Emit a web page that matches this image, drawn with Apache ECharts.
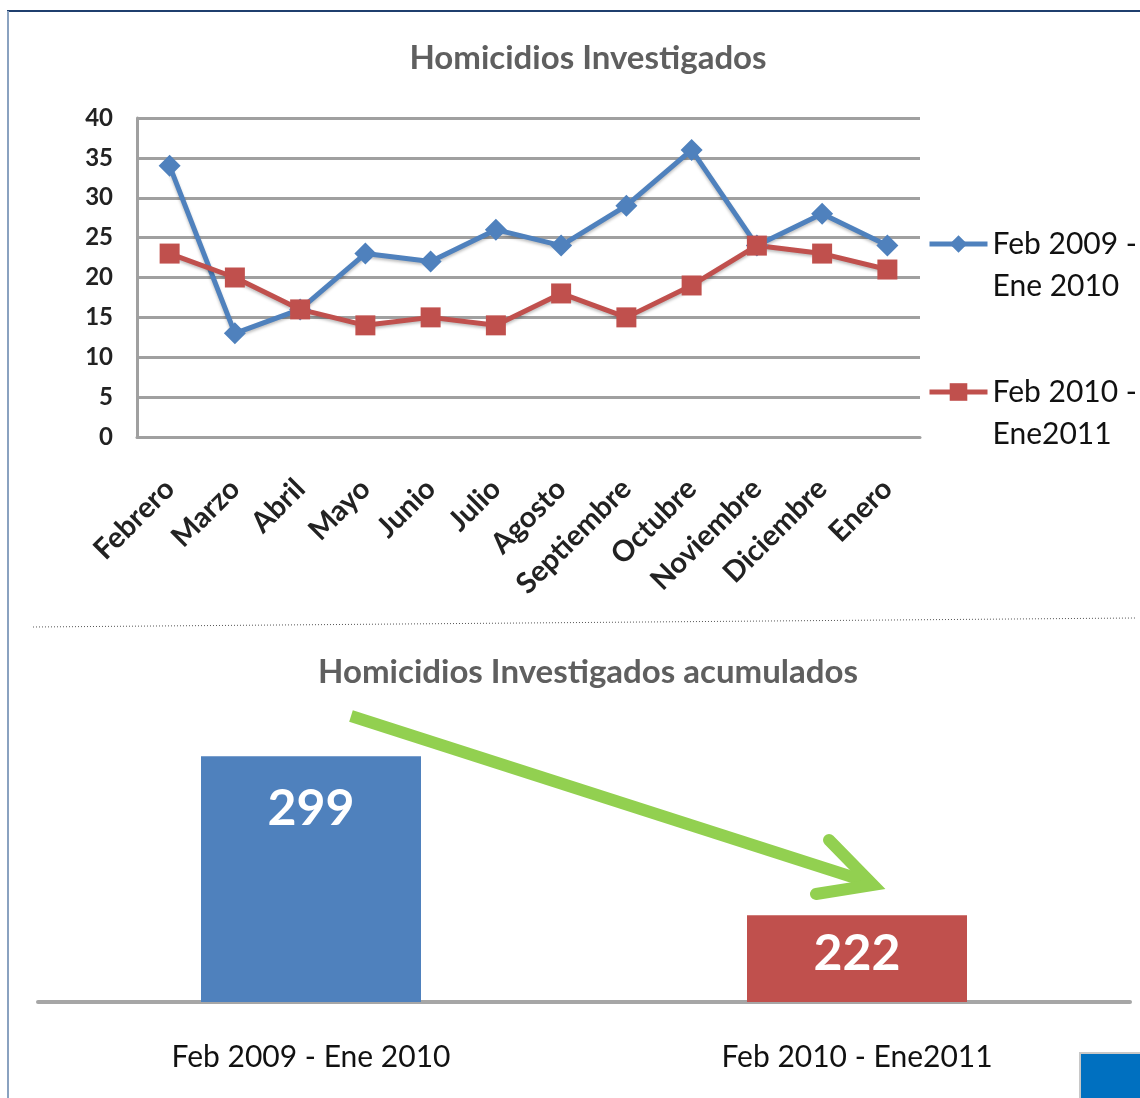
<!DOCTYPE html>
<html>
<head>
<meta charset="utf-8">
<script src="https://cdn.jsdelivr.net/npm/echarts@6/dist/echarts.min.js"></script>
<style>
  html, body { margin: 0; padding: 0; background: #fff; }
  #chart { width: 1140px; height: 1098px; }
</style>
</head>
<body>
<div id="chart"></div>
<script>
// datos del grafico de lineas
var meses = ['Febrero', 'Marzo', 'Abril', 'Mayo', 'Junio', 'Julio', 'Agosto', 'Septiembre', 'Octubre', 'Noviembre', 'Diciembre', 'Enero'];
var serie2009 = [34, 13, 16, 23, 22, 26, 24, 29, 36, 24, 28, 24];
var serie2010 = [23, 20, 16, 14, 15, 14, 18, 15, 19, 24, 23, 21];
var nombre2009 = 'Feb 2009 -\nEne 2010';
var nombre2010 = 'Feb 2010 -\nEne2011';

// datos del grafico de barras (acumulados)
var periodos = ['Feb 2009 - Ene 2010', 'Feb 2010 - Ene2011'];
var acumulados = [299, 222];

var fuente = 'Lato, "Open Sans", sans-serif';
var azul = '#4f81bd';
var rojo = '#c0504d';
var gris = '#a0a0a0';

var myChart = echarts.init(document.getElementById('chart'), null, { renderer: 'canvas' });

// texto de leyenda en dos lineas, con una linea vacia arriba para que el icono quede en la primera
function textoLeyenda(name) {
    var partes = name.split('\n');
    return '{e| }\n{t|' + partes[0] + '}\n{t|' + partes[1] + '}';
}
var estiloLeyenda = {
    fontSize: 30,
    color: '#111',
    rich: {
        e: { fontSize: 30, lineHeight: 42 },
        t: { fontSize: 30, lineHeight: 42, color: '#111' }
    }
};

var option = {
    animation: false,
    textStyle: { fontFamily: fuente },
    title: [
        {
            text: 'Homicidios Investigados',
            left: 583, top: 37, textAlign: 'center',
            textStyle: { fontSize: 33, fontWeight: 'bold', color: '#5f5f5f', fontFamily: fuente }
        },
        {
            text: 'Homicidios Investigados acumulados',
            left: 583, top: 651, textAlign: 'center',
            textStyle: { fontSize: 33, fontWeight: 'bold', color: '#5f5f5f', fontFamily: fuente }
        }
    ],
    legend: [
        {
            data: [nombre2009],
            formatter: textoLeyenda,
            left: 922, top: 182,
            itemWidth: 58, itemHeight: 22,
            lineStyle: { width: 5 },
            textStyle: estiloLeyenda
        },
        {
            data: [nombre2010],
            formatter: textoLeyenda,
            left: 922, top: 330,
            itemWidth: 58, itemHeight: 22,
            lineStyle: { width: 5 },
            textStyle: estiloLeyenda
        }
    ],
    grid: [
        { left: 137, width: 783, top: 118, height: 319 },
        { left: 38, width: 1092, top: 713, height: 289 }
    ],
    xAxis: [
        {
            gridIndex: 0,
            type: 'category',
            data: meses,
            boundaryGap: true,
            axisLine: { lineStyle: { color: gris, width: 3 } },
            axisTick: { show: false },
            axisLabel: { rotate: 45, margin: 47, fontSize: 29, fontWeight: 'bold', color: '#222', interval: 0 }
        },
        {
            gridIndex: 1,
            type: 'category',
            data: periodos,
            axisLine: { lineStyle: { color: '#a6a6a6', width: 4 } },
            axisTick: { show: false },
            axisLabel: { margin: 40, fontSize: 30, color: '#111' }
        }
    ],
    yAxis: [
        {
            gridIndex: 0,
            type: 'value',
            min: 0, max: 40, interval: 5,
            axisLine: { show: true, lineStyle: { color: gris, width: 3 } },
            axisTick: { show: false },
            splitLine: { lineStyle: { color: gris, width: 3 } },
            axisLabel: { fontSize: 24, color: '#222', margin: 24, fontWeight: 'bold' }
        },
        {
            gridIndex: 1,
            type: 'value',
            min: 180, max: 320,
            show: false,
            splitLine: { show: false }
        }
    ],
    series: [
        {
            name: nombre2009,
            type: 'line',
            xAxisIndex: 0, yAxisIndex: 0,
            data: serie2009,
            symbol: 'diamond',
            symbolSize: 22,
            lineStyle: { color: azul, width: 5, shadowColor: 'rgba(0,0,0,0.25)', shadowBlur: 3, shadowOffsetY: 2 },
            itemStyle: { color: azul }
        },
        {
            name: nombre2010,
            type: 'line',
            xAxisIndex: 0, yAxisIndex: 0,
            data: serie2010,
            symbol: 'rect',
            symbolSize: 20,
            lineStyle: { color: rojo, width: 5, shadowColor: 'rgba(0,0,0,0.25)', shadowBlur: 3, shadowOffsetY: 2 },
            itemStyle: { color: rojo }
        },
        {
            type: 'bar',
            xAxisIndex: 1, yAxisIndex: 1,
            barWidth: 220,
            data: [
                { value: acumulados[0], itemStyle: { color: azul }, label: { distance: 28 } },
                { value: acumulados[1], itemStyle: { color: rojo }, label: { distance: 14 } }
            ],
            label: {
                show: true,
                position: 'insideTop',
                fontSize: 50,
                fontWeight: 'bold',
                color: '#fff'
            }
        }
    ],
    graphic: [
        // borde superior y lateral
        { type: 'line', shape: { x1: 7, y1: 11, x2: 1140, y2: 11 }, style: { stroke: '#1f3f6e', lineWidth: 2 } },
        { type: 'line', shape: { x1: 8, y1: 11, x2: 8, y2: 1098 }, style: { stroke: '#8aa2c0', lineWidth: 2 } },
        // separador punteado
        { type: 'line', shape: { x1: 33, y1: 627, x2: 1135, y2: 618 }, style: { stroke: '#555', lineWidth: 1, lineDash: [1, 2] } },
        // flecha verde
        { type: 'polyline', shape: { points: [[351, 716], [868, 882]] }, style: { stroke: '#92d050', lineWidth: 12, fill: null } },
        { type: 'polyline', shape: { points: [[829, 840], [873, 885], [816, 894]] }, style: { stroke: '#92d050', lineWidth: 12, fill: null, lineCap: 'round', lineJoin: 'miter' } },
        // cuadro azul abajo a la derecha
        { type: 'rect', shape: { x: 1080, y: 1053, width: 62, height: 47 }, style: { fill: '#0070c0', stroke: '#c8c8c8', lineWidth: 2 } }
    ]
};

myChart.setOption(option);
</script>
</body>
</html>
